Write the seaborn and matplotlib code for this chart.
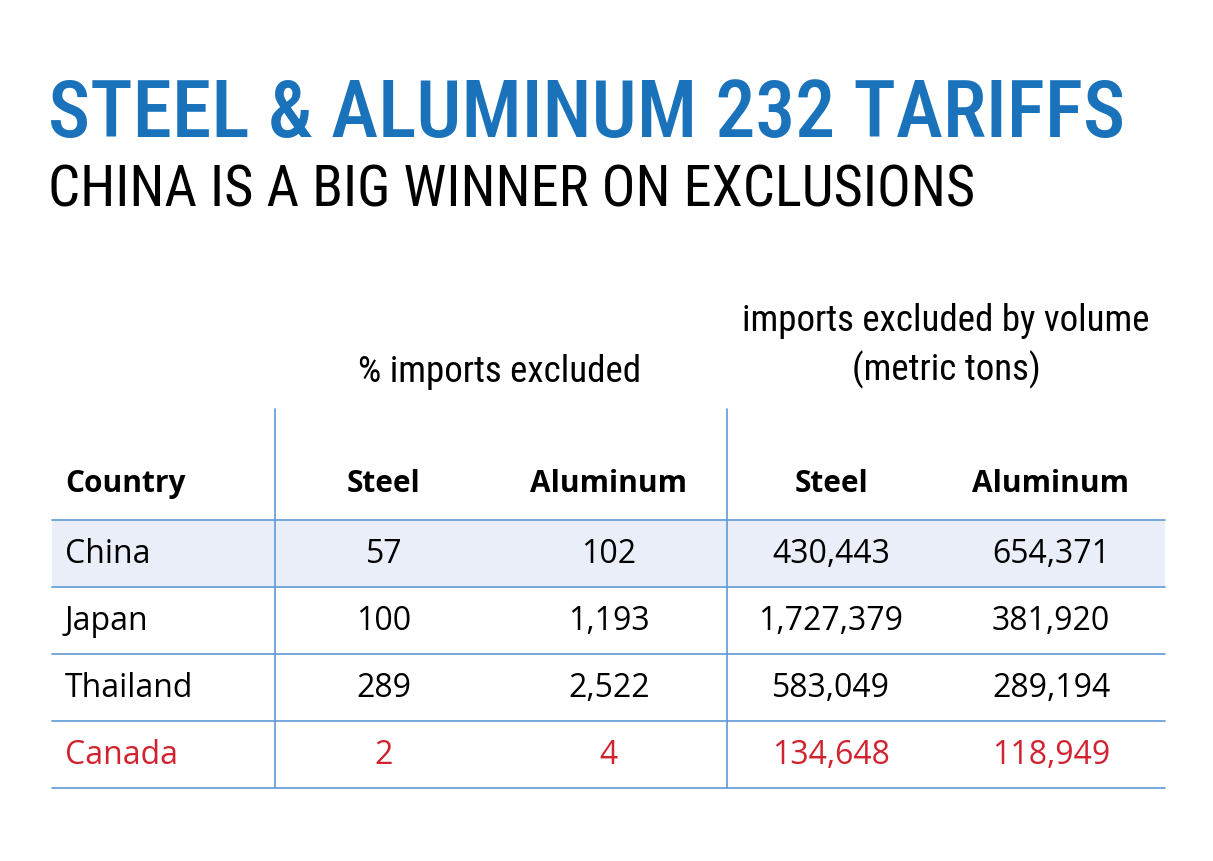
import os
import matplotlib as mpl
mpl.use('agg')
import matplotlib.pyplot as plt
from matplotlib import font_manager
import seaborn as sns

# table data
countries = ["China", "Japan", "Thailand", "Canada"]
steel_pct = [57, 100, 289, 2]
alum_pct = [102, 1193, 2522, 4]
steel_vol = [430443, 1727379, 583049, 134648]
alum_vol = [654371, 381920, 289194, 118949]
col_labels = ["Country", "Steel", "Aluminum", "Steel", "Aluminum"]

title = "STEEL & ALUMINUM 232 TARIFFS"
subtitle = "CHINA IS A BIG WINNER ON EXCLUSIONS"
group_pct = "% imports excluded"
group_vol = ["imports excluded by volume", "(metric tons)"]

sns.set_theme(style="white")
plt.rcParams['font.family'] = ['Open Sans', 'DejaVu Sans']
plt.rcParams['text.color'] = 'black'

BLUE = "#1a72bb"
LINE = "#5e9ad6"
RED = "#d1232f"
SHADE = "#eaeef8"


def pick_narrow(patterns):
    files = [f.fname for f in font_manager.fontManager.ttflist]
    for p in patterns:
        for f in files:
            if p.lower() in os.path.basename(f).lower():
                return font_manager.FontProperties(fname=f)
    return font_manager.FontProperties(family='DejaVu Sans', stretch='condensed')


narrow_title = pick_narrow(["NotoSans-ExtraCondensedMedium", "NotoSans-ExtraCondensed.",
                            "NotoSans-CondensedMedium", "RobotoCondensed-Medium",
                            "RobotoCondensed-Regular", "LiberationSansNarrow-Regular",
                            "DejaVuSansCondensed."])
narrow_text = pick_narrow(["NotoSans-ExtraCondensed.", "NotoSans-ExtraCondensedMedium",
                           "NotoSans-Condensed.", "RobotoCondensed-Regular",
                           "LiberationSansNarrow-Regular", "DejaVuSansCondensed."])

fig = plt.figure(figsize=(12.13, 8.62), dpi=100)
ax = fig.add_axes([0, 0, 1, 1])
ax.set_xlim(0, 1213)
ax.set_ylim(862, 0)
ax.axis('off')
renderer = fig.canvas.get_renderer()


def fit_text(x, y, s, width, size, fp, **kw):
    t = ax.text(x, y, s, fontproperties=fp.copy(), fontsize=size, va='baseline', **kw)
    w = t.get_window_extent(renderer).width
    if w > width:
        t.set_fontsize(size * width / w)
    return t


fit_text(48, 137, title, 1077, 80, narrow_title, color=BLUE)
fit_text(48, 207, subtitle, 927, 53, narrow_text, color='black')

# group headers share one size, set by the widest line
t1 = fit_text(946, 331, group_vol[0], 408, 36, narrow_text, ha='center')
gsize = t1.get_fontsize()
ax.text(946, 380, group_vol[1], fontproperties=narrow_text.copy(), fontsize=gsize,
        ha='center', va='baseline')
ax.text(500, 382, group_pct, fontproperties=narrow_text.copy(), fontsize=gsize,
        ha='center', va='baseline')

left, right = 52, 1165
top, row_h = 521, 67
col_x = [65, 384, 609, 831, 1051]

# shaded China row
ax.fill_between([left, right], top, top + row_h, color=SHADE, lw=0)

for i in range(len(countries) + 1):
    y = top + i * row_h
    ax.plot([left, right], [y, y], color=LINE, lw=1.2)
for x in [275, 727]:
    ax.plot([x, x], [410, top + len(countries) * row_h], color=LINE, lw=1.2)

for j, lab in enumerate(col_labels):
    ax.text(col_x[j], 484, lab, fontsize=21.5, fontweight='bold', color='black',
            ha='left' if j == 0 else 'center', va='center')

for i, c in enumerate(countries):
    y = top + (i + 0.5) * row_h
    color = RED if c == "Canada" else 'black'
    vals = [c, f"{steel_pct[i]:,}", f"{alum_pct[i]:,}", f"{steel_vol[i]:,}", f"{alum_vol[i]:,}"]
    for j, v in enumerate(vals):
        ax.text(col_x[j], y, v, fontsize=23, color=color,
                ha='left' if j == 0 else 'center', va='center')

fig.savefig("out.png", dpi=100)
